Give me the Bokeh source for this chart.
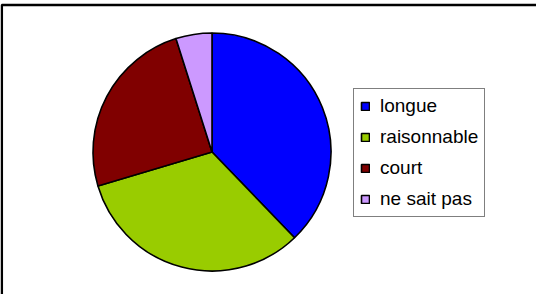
import math
from bokeh.plotting import figure
from bokeh.models import ColumnDataSource, Range1d
from bokeh.embed import file_html
from bokeh.resources import INLINE

labels = ["longue", "raisonnable", "court", "ne sait pas"]
values = [37.8, 32.6, 24.7, 4.9]
colors = ["#0000FF", "#99CC00", "#800000", "#CC99FF"]

total = sum(values)
starts, ends = [], []
acc = 0.0
for v in values:
    starts.append(math.pi / 2 - 2 * math.pi * acc / total)
    acc += v
    ends.append(math.pi / 2 - 2 * math.pi * acc / total)

src = ColumnDataSource(dict(label=labels, value=values, color=colors,
                            start=starts, end=ends))

W, H = 536, 294
p = figure(width=W, height=H, output_backend="svg", toolbar_location=None,
           x_range=Range1d(0, W), y_range=Range1d(0, H),
           min_border=0, min_border_left=0, min_border_right=0,
           min_border_top=0, min_border_bottom=0)
p.axis.visible = False
p.grid.visible = False
p.outline_line_color = None
p.background_fill_color = "white"
p.border_fill_color = "white"

# chart-area border (top and left edges visible; rest runs off the page)
p.quad(left=1.3, right=W + 50, top=H - 4.5, bottom=-50,
       fill_color=None, line_color="black", line_width=2.5)

cx, cy, r = 211.5, H - 151.5, 119
p.wedge(x=cx, y=cy, radius=r, start_angle="start", end_angle="end",
        direction="clock", fill_color="color", line_color="black",
        line_width=1.6, legend_field="label", source=src)

leg = p.legend[0]
leg.location = (353, 77)
leg.margin = 0
leg.padding = 6
leg.spacing = 9
leg.glyph_width = 10
leg.glyph_height = 10
leg.label_standoff = 10
leg.label_height = 20
leg.label_text_font = "Liberation Sans"
leg.label_text_font_size = "19px"
leg.label_text_color = "black"
leg.border_line_color = "black"
leg.border_line_width = 1
leg.background_fill_color = "white"
leg.background_fill_alpha = 1.0

open("out.html", "w").write(file_html(p, INLINE))
